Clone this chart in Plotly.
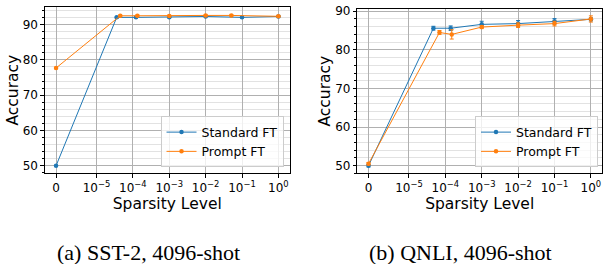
import numpy as np
import plotly.graph_objects as go

# ---------------- data ----------------
series_names = ["Standard FT", "Prompt FT"]

sst_std_x = [0, 3.6e-5, 1.22e-4, 1e-3, 1e-2, 1e-1, 1]
sst_std_y = [50.0, 92.05, 92.05, 92.1, 92.3, 92.05, 92.3]
sst_std_e = [0.15, 0.2, 0.2, 0.2, 0.2, 0.2, 0.2]

sst_pr_x = [0, 4.5e-5, 1.33e-4, 1e-3, 1e-2, 5.1e-2, 1]
sst_pr_y = [77.7, 92.5, 92.5, 92.45, 92.6, 92.6, 92.35]
sst_pr_e = [0.2, 0.2, 0.2, 0.2, 0.2, 0.2, 0.2]

qnli_std_x = [0, 4.7e-5, 1.4e-4, 1e-3, 1e-2, 1e-1, 1]
qnli_std_y = [50.0, 85.6, 85.6, 86.6, 86.8, 87.4, 87.9]
qnli_std_e = [0.3, 0.5, 0.6, 0.8, 0.8, 0.7, 0.4]

qnli_pr_x = [0, 6.9e-5, 1.5e-4, 1e-3, 1e-2, 1e-1, 1]
qnli_pr_y = [50.5, 84.5, 84.0, 85.9, 86.4, 86.8, 88.0]
qnli_pr_e = [0.3, 0.5, 1.2, 0.4, 0.6, 0.6, 0.8]

tick_values = [0, 1e-5, 1e-4, 1e-3, 1e-2, 1e-1, 1]
tick_labels = ["0", "10<sup>−5</sup>", "10<sup>−4</sup>", "10<sup>−3</sup>",
               "10<sup>−2</sup>", "10<sup>−1</sup>", "10<sup>0</sup>"]
captions = ["(a) SST-2, 4096-shot", "(b) QNLI, 4096-shot"]

# symlog scale (linthresh 1e-5, linscale 1, base 10), as in matplotlib
LINTHRESH = 1e-5
LINSCALE_ADJ = 1.0 / (1 - 1 / 10.0)


def symlog(v):
    v = np.asarray(v, dtype=float)
    out = np.where(np.abs(v) <= LINTHRESH,
                   v / LINTHRESH * LINSCALE_ADJ,
                   np.sign(v) * (LINSCALE_ADJ + np.log10(np.maximum(np.abs(v), 1e-300) / LINTHRESH)))
    return out


BLUE = "#1f77b4"
ORANGE = "#ff7f0e"
FONT = "DejaVu Sans"

fig = go.Figure()


def add(x, y, e, color, name, xa, ya, legend):
    fig.add_trace(go.Scatter(
        x=symlog(x), y=y, name=name, mode="lines+markers",
        line=dict(color=color, width=1),
        marker=dict(color=color, size=4.5),
        error_y=dict(type="data", array=e, color=color, thickness=1, width=2),
        xaxis=xa, yaxis=ya, legend=legend,
    ))


add(sst_std_x, sst_std_y, sst_std_e, BLUE, series_names[0], "x", "y", "legend")
add(sst_pr_x, sst_pr_y, sst_pr_e, ORANGE, series_names[1], "x", "y", "legend")
add(qnli_std_x, qnli_std_y, qnli_std_e, BLUE, series_names[0], "x2", "y2", "legend2")
add(qnli_pr_x, qnli_pr_y, qnli_pr_e, ORANGE, series_names[1], "x2", "y2", "legend2")

W, H = 603, 264
span = symlog([1])[0]
pad = 0.05 * span

xcommon = dict(
    range=[-pad, span + pad],
    tickvals=list(symlog(tick_values)), ticktext=tick_labels,
    showline=True, mirror=True, linecolor="black", linewidth=1,
    ticks="outside", ticklen=3.5, tickcolor="black",
    showgrid=True, gridcolor="#b0b0b0", gridwidth=1,
    zeroline=False,
    tickfont=dict(family=FONT, size=12, color="black"),
    title=dict(text="Sparsity Level", font=dict(family=FONT, size=15.5, color="black"), standoff=1),
)
ycommon = dict(
    showline=True, mirror=True, linecolor="black", linewidth=1,
    ticks="outside", ticklen=3.5, tickcolor="black",
    showgrid=True, gridcolor="#b0b0b0", gridwidth=1,
    zeroline=False, dtick=10,
    minor=dict(dtick=2, showgrid=True, gridcolor="#e2e2e2", gridwidth=0.8,
               ticks="outside", ticklen=2, tickcolor="black"),
    tickfont=dict(family=FONT, size=12, color="black"),
    title=dict(text="Accuracy", font=dict(family=FONT, size=15.5, color="black"), standoff=0),
)

legend_common = dict(
    bgcolor="rgba(255,255,255,0.8)", bordercolor="#cccccc", borderwidth=1,
    font=dict(family=FONT, size=12.5, color="black"),
    xanchor="right", yanchor="bottom", tracegroupgap=0,
    itemwidth=30,
)

fig.update_layout(
    width=W, height=H,
    margin=dict(l=0, r=0, t=0, b=0),
    paper_bgcolor="white", plot_bgcolor="white",
    xaxis=dict(domain=[45 / W, 290 / W], anchor="y", **xcommon),
    yaxis=dict(domain=[1 - 172 / H, 1 - 3 / H], anchor="x", range=[47.85, 95.0], **ycommon),
    xaxis2=dict(domain=[358 / W, 1.0], anchor="y2", **xcommon),
    yaxis2=dict(domain=[1 - 172 / H, 1 - 5 / H], anchor="x2", range=[48.0, 90.6], **ycommon),
    legend=dict(x=284 / W, y=1 - 166 / H, **legend_common),
    legend2=dict(x=599 / W, y=1 - 166 / H, **legend_common),
    showlegend=True,
)

for cx, text in zip([149 / W, 461 / W], captions):
    fig.add_annotation(
        x=cx, y=1 - 252 / H, xref="paper", yref="paper",
        text=text, showarrow=False, xanchor="center", yanchor="middle",
        font=dict(family="Liberation Serif", size=22, color="black"),
    )

fig.write_html(
    "out.html",
    config={"displayModeBar": False},
    post_script="document.body.style.margin='0';document.body.style.overflow='hidden';",
)
